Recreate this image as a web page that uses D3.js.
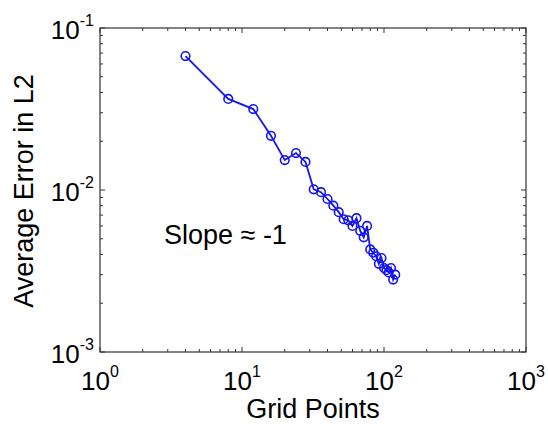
<!DOCTYPE html>
<html><head><meta charset="utf-8">
<script src="https://cdn.jsdelivr.net/npm/d3@7"></script>
<style>body{margin:0;background:#fff}svg{display:block}text{font-family:"Liberation Sans",Arial,sans-serif;fill:#000}</style>
</head><body>
<script>
const gridPoints = [4,8,12,16,20,24,28,32,36,40,44,48,52,56,60,64,68,72,76,80,84,88,92,96,100,104,108,112,116,120];
const avgError = [0.0671,0.0365,0.0316,0.0216,0.0153,0.0169,0.0149,0.0101,0.0097,0.0088,0.0080,0.0073,0.0066,0.0065,0.0060,0.0067,0.0056,0.0051,0.0060,0.0043,0.0041,0.0039,0.0035,0.0038,0.0033,0.0032,0.0031,0.0033,0.0028,0.0030];
const xTicks = [1,10,100,1000];
const xTickExp = ["0","1","2","3"];
const yTicks = [0.001,0.01,0.1];
const yTickExp = ["-3","-2","-1"];
const xLabel = "Grid Points";
const yLabel = "Average Error in L2";
const annotation = "Slope \u2248 -1";

const W=548,H=426, m={l:100,r:22,t:28,b:74};
const svg=d3.select("body").append("svg").attr("width",W).attr("height",H);
const x=d3.scaleLog().domain([1,1000]).range([m.l,W-m.r]);
const y=d3.scaleLog().domain([0.001,0.1]).range([H-m.b,m.t]);
const x0=m.l,x1=W-m.r,y0=H-m.b,y1=m.t;

const minorX=[],minorY=[];
for(let d=1;d<1000;d*=10)for(let k=2;k<=9;k++)minorX.push(d*k);
for(let d=0.001;d<0.1;d*=10)for(let k=2;k<=9;k++)minorY.push(d*k);
const tk=svg.append("g").attr("stroke","#333").attr("stroke-width",1);
minorX.forEach(v=>{const px=x(v);tk.append("line").attr("x1",px).attr("x2",px).attr("y1",y0).attr("y2",y0-3);tk.append("line").attr("x1",px).attr("x2",px).attr("y1",y1).attr("y2",y1+3);});
minorY.forEach(v=>{const py=y(v);tk.append("line").attr("x1",x0).attr("x2",x0+3).attr("y1",py).attr("y2",py);tk.append("line").attr("x1",x1).attr("x2",x1-3).attr("y1",py).attr("y2",py);});
xTicks.forEach(v=>{const px=x(v);tk.append("line").attr("x1",px).attr("x2",px).attr("y1",y0).attr("y2",y0-5);tk.append("line").attr("x1",px).attr("x2",px).attr("y1",y1).attr("y2",y1+5);});
yTicks.forEach(v=>{const py=y(v);tk.append("line").attr("x1",x0).attr("x2",x0+5).attr("y1",py).attr("y2",py);tk.append("line").attr("x1",x1).attr("x2",x1-5).attr("y1",py).attr("y2",py);});
svg.append("rect").attr("x",x0).attr("y",y1).attr("width",x1-x0).attr("height",y0-y1).attr("fill","none").attr("stroke","#333").attr("stroke-width",1.2);

xTicks.forEach((v,i)=>{const t=svg.append("text").attr("x",x(v)).attr("y",y0+38).attr("text-anchor","middle").attr("font-size",26);
 t.append("tspan").text("10");t.append("tspan").attr("dy",-13).attr("font-size",16).text(xTickExp[i]);});
yTicks.forEach((v,i)=>{const t=svg.append("text").attr("x",x0-6).attr("y",y(v)+11).attr("text-anchor","end").attr("font-size",26);
 t.append("tspan").text("10");t.append("tspan").attr("dy",-13).attr("font-size",16).text(yTickExp[i]);});

svg.append("text").attr("x",(x0+x1)/2).attr("y",418).attr("text-anchor","middle").attr("font-size",27).text(xLabel);
svg.append("text").attr("transform",`translate(33,191) rotate(-90)`).attr("text-anchor","middle").attr("font-size",27).text(yLabel);
svg.append("text").attr("x",164).attr("y",244).attr("font-size",27).text(annotation);

const data=gridPoints.map((g,i)=>[g,avgError[i]]);
svg.append("path").datum(data).attr("fill","none").attr("stroke","#1515f0").attr("stroke-width",1.8)
 .attr("d",d3.line().x(d=>x(d[0])).y(d=>y(d[1])));
svg.append("g").selectAll("circle").data(data).join("circle").attr("cx",d=>x(d[0])).attr("cy",d=>y(d[1])).attr("r",4.3)
 .attr("fill","none").attr("stroke","#1515f0").attr("stroke-width",1.6);
</script>
</body></html>
